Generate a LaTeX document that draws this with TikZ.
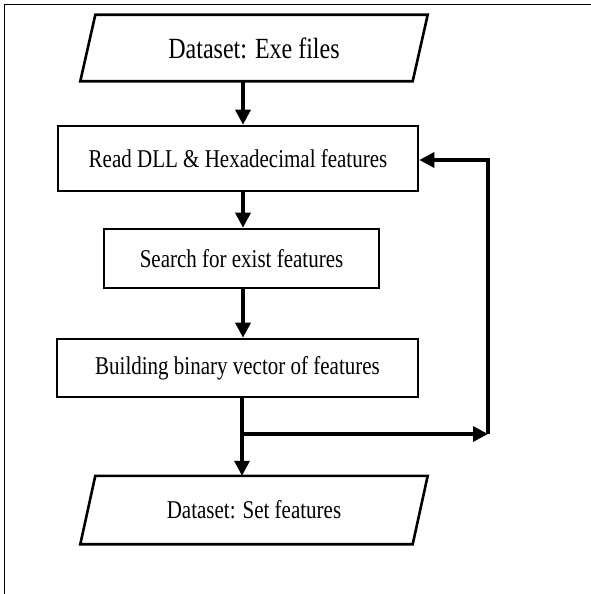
\documentclass[tikz,border=0pt]{standalone}
\usepackage{fontspec}
\usepackage{graphicx}
\setmainfont{Liberation Serif}
\usetikzlibrary{arrows.meta,calc}
\newcommand\tallt[1]{\scalebox{1}[1.22]{#1}}
\begin{document}
\begin{tikzpicture}[x=1pt,y=-1pt,
  procbox/.style={draw,line width=2.6pt,rectangle,inner sep=0pt,font=\fontsize{21}{25}\selectfont},
  iobox/.style={rectangle,inner sep=0pt,font=\fontsize{21}{25}\selectfont},
  arr/.style={line width=3.4pt,-{Triangle[length=15pt,width=15pt]}},
  ln/.style={line width=3.4pt},
  frame/.style={line width=1.8pt}]
\useasboundingbox (0,0) rectangle (591,594);
% frame
\draw[frame] (4.5,594) -- (4.5,4.5) -- (591,4.5);
% nodes
\node[iobox,minimum width=332pt,minimum height=66pt,font=\fontsize{24}{28}\selectfont] (in) at (254,48) {\tallt{Dataset: Exe files}};
\draw[line width=2.6pt,line join=miter] ($(in.north west)+(7.5,0)$) -- ($(in.north east)+(7.5,0)$) -- ($(in.south east)+(-7.5,0)$) -- ($(in.south west)+(-7.5,0)$) -- cycle;
\node[procbox,minimum width=360pt,minimum height=65pt] (b1) at (238,158.5) {\tallt{Read DLL \& Hexadecimal features}};
\node[procbox,minimum width=275pt,minimum height=59pt] (b2) at (241.5,258.5) {\tallt{Search for exist features}};
\node[procbox,minimum width=361pt,minimum height=58pt] (b3) at (237.5,368) {\tallt{Building binary vector of features}};
\node[iobox,minimum width=332pt,minimum height=68pt] (out) at (254,510) {\tallt{Dataset: Set features}};
\draw[line width=2.6pt,line join=miter] ($(out.north west)+(7.5,0)$) -- ($(out.north east)+(7.5,0)$) -- ($(out.south east)+(-7.5,0)$) -- ($(out.south west)+(-7.5,0)$) -- cycle;
% coordinates
\coordinate (ax) at (243,0);
\coordinate (j) at (242,434);
\coordinate (r1) at (488,434);
\coordinate (r2) at (488,160);
% connectors
\draw[arr] (in.south -| ax) -- (b1.north -| ax);
\draw[arr] (b1.south -| ax) -- (b2.north -| ax);
\draw[arr] (b2.south -| ax) -- (b3.north -| ax);
\draw[ln] (b3.south -| j) -- (j);
\draw[arr] (j) -- (out.north -| j);
\draw[arr] (j) -- (r1);
\draw[arr,line join=miter] (r1) -- (r2) -- (b1.east |- r2);
\end{tikzpicture}
\end{document}
